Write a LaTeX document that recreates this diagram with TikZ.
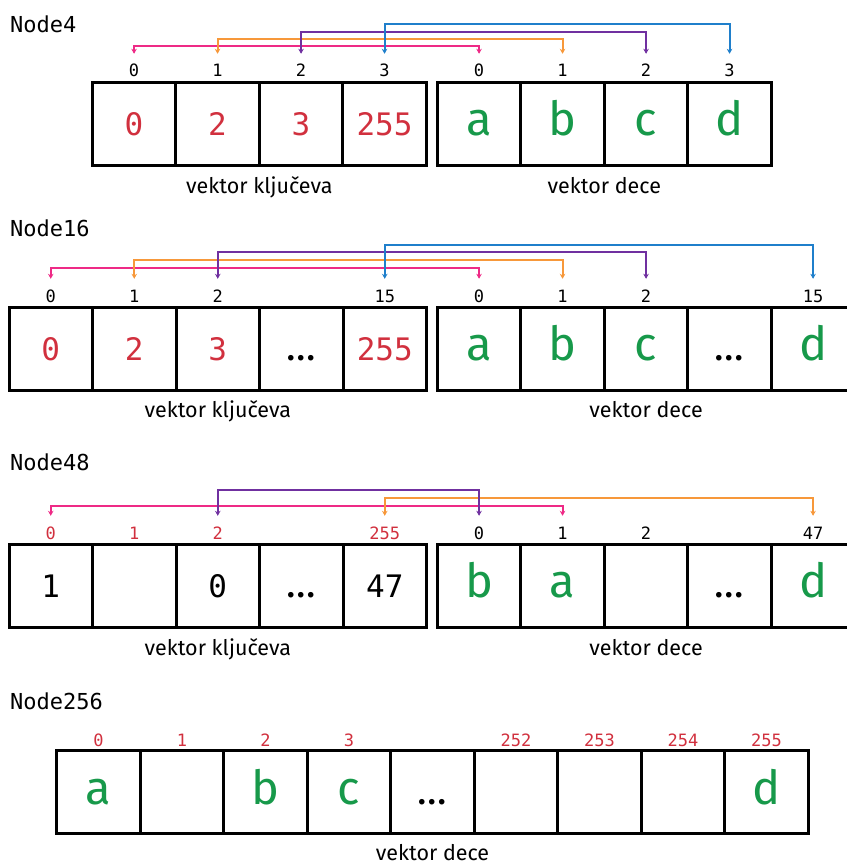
\documentclass[tikz,border=0pt]{standalone}
\usepackage{fontspec}
\setmainfont{Fira Sans}
\newfontfamily\monof{DejaVu Sans Mono}
\usetikzlibrary{arrows.meta}
\definecolor{kred}{HTML}{D1303E}
\definecolor{kgreen}{HTML}{17994A}
\definecolor{cpink}{HTML}{EE2A86}
\definecolor{corange}{HTML}{F7983A}
\definecolor{cpurple}{HTML}{7030A0}
\definecolor{cblue}{HTML}{1F7FCB}
\begin{document}
\begin{tikzpicture}[x=1pt,y=-1pt,
  cell/.style={draw, line width=3pt, minimum width=83.5pt, minimum height=83pt, inner sep=0pt, text height=24pt, text depth=0pt},
  kr/.style={font=\monof\fontsize{31}{31}\selectfont, text=kred},
  kb/.style={font=\monof\fontsize{31}{31}\selectfont, text=black},
  ch/.style={font=\fontsize{47}{47}\selectfont, text=kgreen},
  dt/.style={font=\fontsize{40}{40}\selectfont, text=black},
  em/.style={},
  idx/.style={font=\monof\fontsize{17}{17}\selectfont, inner sep=0pt, text height=12pt, text depth=0pt, anchor=base},
  idxr/.style={idx, text=kred},
  capt/.style={font=\fontsize{21.5}{21.5}\selectfont, inner sep=0pt, anchor=base},
  ttl/.style={font=\monof\fontsize{22}{22}\selectfont, inner sep=0pt, anchor=base west},
  conn/.style={line width=2pt, {Stealth[length=5pt,width=5.5pt]}-{Stealth[length=5pt,width=5.5pt]}}
]
\useasboundingbox (0,0) rectangle (846,866);

% ---------------- Node4 ----------------
\node[ttl] (t4) at (10,33) {Node4};
\foreach \i/\t/\s in {0/0/kr,1/2/kr,2/3/kr,3/255/kr}
  \node[cell,\s] (n4k\i) at ({92.3+41.75+83.5*\i},123.8) {\t};
\foreach \i/\t/\s in {0/a/ch,1/b/ch,2/c/ch,3/d/ch}
  \node[cell,\s] (n4c\i) at ({437.3+41.75+83.5*\i},123.8) {\t};
\foreach \i in {0,1,2,3}{
  \node[idx] (n4ki\i) at ({92.3+41.75+83.5*\i},77) {\i};
  \node[idx] (n4ci\i) at ({437.3+41.75+83.5*\i},77) {\i};
}
\node[capt] (n4kc) at (259.3,193.3) {vektor ključeva};
\node[capt] (n4cc) at (604.3,193.3) {vektor dece};
\draw[conn,cpink]   ([yshift=11pt]n4ki0.north) -- ++(0,-8)  -| ([yshift=11pt]n4ci0.north);
\draw[conn,corange] ([yshift=11pt]n4ki1.north) -- ++(0,-15) -| ([yshift=11pt]n4ci1.north);
\draw[conn,cpurple] ([yshift=11pt]n4ki2.north) -- ++(0,-22) -| ([yshift=11pt]n4ci2.north);
\draw[conn,cblue]   ([yshift=11pt]n4ki3.north) -- ++(0,-30) -| ([yshift=11pt]n4ci3.north);

% ---------------- Node16 ----------------
\node[ttl] (t16) at (10,237) {Node16};
\foreach \i/\t/\s in {0/0/kr,1/2/kr,2/3/kr,3/\ldots/dt,4/255/kr}
  \node[cell,\s] (n16k\i) at ({9+41.75+83.5*\i},348.8) {\t};
\foreach \i/\t/\s in {0/a/ch,1/b/ch,2/c/ch,3/\ldots/dt,4/d/ch}
  \node[cell,\s] (n16c\i) at ({437.3+41.75+83.5*\i},348.8) {\t};
\foreach \i/\t in {0/0,1/1,2/2,4/15}{
  \node[idx] (n16ki\i) at ({9+41.75+83.5*\i},302) {\t};
  \node[idx] (n16ci\i) at ({437.3+41.75+83.5*\i},302) {\t};
}
\node[capt] (n16kc) at (217.75,417.7) {vektor ključeva};
\node[capt] (n16cc) at (646.05,417.7) {vektor dece};
\draw[conn,cpink]   ([yshift=11pt]n16ki0.north) -- ++(0,-11) -| ([yshift=11pt]n16ci0.north);
\draw[conn,corange] ([yshift=11pt]n16ki1.north) -- ++(0,-19) -| ([yshift=11pt]n16ci1.north);
\draw[conn,cpurple] ([yshift=11pt]n16ki2.north) -- ++(0,-27) -| ([yshift=11pt]n16ci2.north);
\draw[conn,cblue]   ([yshift=11pt]n16ki4.north) -- ++(0,-34) -| ([yshift=11pt]n16ci4.north);

% ---------------- Node48 ----------------
\node[ttl] (t48) at (10,470) {Node48};
\foreach \i/\t/\s in {0/1/kb,1/{}/em,2/0/kb,3/\ldots/dt,4/47/kb}
  \node[cell,\s] (n48k\i) at ({9+41.75+83.5*\i},585.5) {\t};
\foreach \i/\t/\s in {0/b/ch,1/a/ch,2/{}/em,3/\ldots/dt,4/d/ch}
  \node[cell,\s] (n48c\i) at ({437.3+41.75+83.5*\i},585.5) {\t};
\foreach \i/\t in {0/0,1/1,2/2,4/255}
  \node[idxr] (n48ki\i) at ({9+41.75+83.5*\i},539) {\t};
\foreach \i/\t in {0/0,1/1,2/2,4/47}
  \node[idx] (n48ci\i) at ({437.3+41.75+83.5*\i},539) {\t};
\node[capt] (n48kc) at (217.75,655) {vektor ključeva};
\node[capt] (n48cc) at (646.05,655) {vektor dece};
\draw[conn,cpink]   ([yshift=11pt]n48ki0.north) -- ++(0,-10) -| ([yshift=11pt]n48ci1.north);
\draw[conn,corange] ([yshift=11pt]n48ki4.north) -- ++(0,-18) -| ([yshift=11pt]n48ci4.north);
\draw[conn,cpurple] ([yshift=11pt]n48ki2.north) -- ++(0,-26) -| ([yshift=11pt]n48ci0.north);

% ---------------- Node256 ----------------
\node[ttl] (t256) at (10,709) {Node256};
\foreach \i/\t/\s in {0/a/ch,1/{}/em,2/b/ch,3/c/ch,4/\ldots/dt,5/{}/em,6/{}/em,7/{}/em,8/d/ch}
  \node[cell,\s] (n256c\i) at ({56.7+41.75+83.5*\i},792.2) {\t};
\foreach \i/\t in {0/0,1/1,2/2,3/3,5/252,6/253,7/254,8/255}
  \node[idxr] (n256ci\i) at ({56.7+41.75+83.5*\i},746) {\t};
\node[capt] (n256cc) at (432.5,860) {vektor dece};
\end{tikzpicture}
\end{document}
